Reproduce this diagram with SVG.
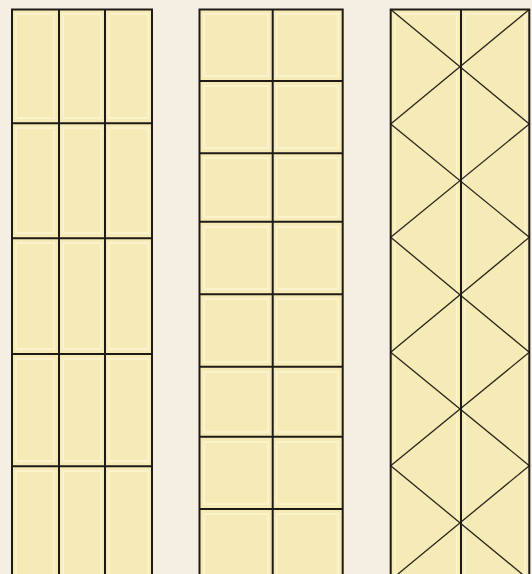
<svg xmlns="http://www.w3.org/2000/svg" width="532" height="574" viewBox="0 0 532 574">
<style>
.bg{fill:#F5EFE3}
.glass{fill:#F6EBB6;stroke:none}
.hl{fill:none;stroke:#FBF4CF;stroke-width:2;opacity:0.8}
.lead{stroke:#1E1B16;stroke-width:2;fill:none}
.thin{stroke:#2A251C;stroke-width:1.3;fill:none}
</style>
<rect class="bg" x="0" y="0" width="532" height="574"/>
<g id="panel-1">
  <rect class="glass" x="12" y="9.5" width="140" height="570"/>
  <g class="hl">
    <rect x="16" y="14" width="38" height="104"/><rect x="63" y="14" width="38" height="104"/><rect x="109" y="14" width="39" height="104"/>
    <rect x="16" y="128" width="38" height="105"/><rect x="63" y="128" width="38" height="105"/><rect x="109" y="128" width="39" height="105"/>
    <rect x="16" y="243" width="38" height="106"/><rect x="63" y="243" width="38" height="106"/><rect x="109" y="243" width="39" height="106"/>
    <rect x="16" y="359" width="38" height="102"/><rect x="63" y="359" width="38" height="102"/><rect x="109" y="359" width="39" height="102"/>
    <rect x="16" y="471" width="38" height="110"/><rect x="63" y="471" width="38" height="110"/><rect x="109" y="471" width="39" height="110"/>
  </g>
  <path class="lead" d="M12 580V9.5H152V580M59 9.5V580M105 9.5V580M12 123.3H152M12 238.3H152M12 354H152M12 466.3H152"/>
</g>
<g id="panel-2">
  <rect class="glass" x="199.5" y="9.5" width="143.2" height="570"/>
  <g class="hl">
    <rect x="204" y="14" width="64" height="62"/><rect x="277" y="14" width="61" height="62"/>
    <rect x="204" y="86" width="64" height="62"/><rect x="277" y="86" width="61" height="62"/>
    <rect x="204" y="158" width="64" height="59"/><rect x="277" y="158" width="61" height="59"/>
    <rect x="204" y="227" width="64" height="62"/><rect x="277" y="227" width="61" height="62"/>
    <rect x="204" y="299" width="64" height="63"/><rect x="277" y="299" width="61" height="63"/>
    <rect x="204" y="372" width="64" height="60"/><rect x="277" y="372" width="61" height="60"/>
    <rect x="204" y="442" width="64" height="62"/><rect x="277" y="442" width="61" height="62"/>
    <rect x="204" y="514" width="64" height="66"/><rect x="277" y="514" width="61" height="66"/>
  </g>
  <path class="lead" d="M199.5 580V9.5H342.7V580M272.7 9.5V580M199.5 81H342.7M199.5 153.3H342.7M199.5 221.7H342.7M199.5 294.3H342.7M199.5 366.7H342.7M199.5 436.7H342.7M199.5 509H342.7"/>
</g>
<g id="panel-3">
  <rect class="glass" x="390.7" y="9.5" width="138.6" height="570"/>
  <g class="hl">
    <rect x="395" y="14" width="62" height="566"/><rect x="465" y="14" width="60" height="566"/>
  </g>
  <path class="thin" d="M390.7 9.5L529.3 124L390.7 237.3L529.3 352.3L390.7 465.7L529.3 580M529.3 9.5L390.7 124L529.3 237.3L390.7 352.3L529.3 465.7L390.7 580"/>
  <path class="lead" d="M390.7 580V9.5H529.3V580M461 9.5V580"/>
</g>
</svg>
